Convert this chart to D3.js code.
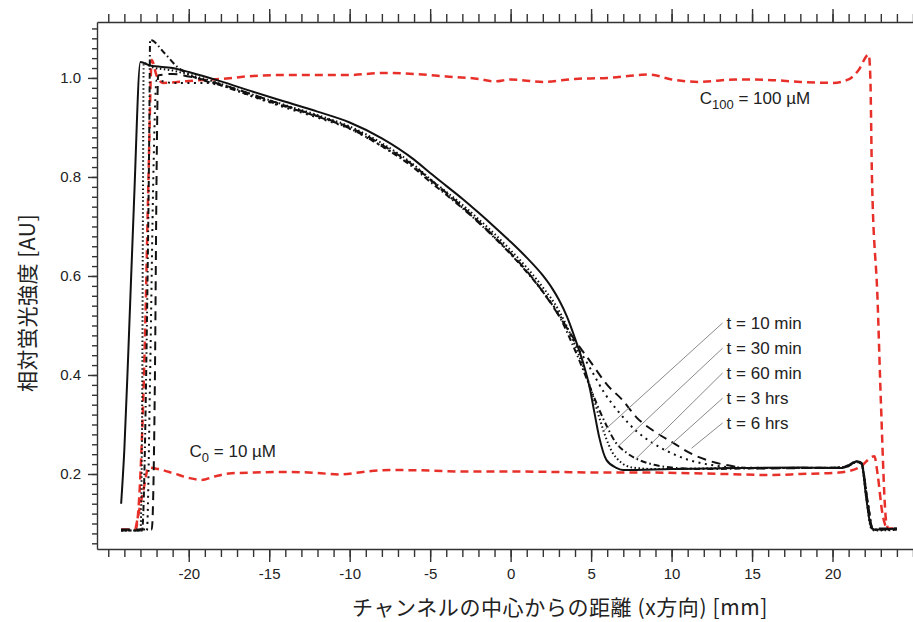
<!DOCTYPE html>
<html>
<head>
<meta charset="utf-8">
<script src="https://cdn.jsdelivr.net/npm/d3@7"></script>
<style>
  body { margin: 0; background: #fff; }
  text { font-family: "Liberation Sans", Arial, sans-serif; fill: #222; }
  .jp { font-family: "Noto Sans CJK JP", sans-serif; }
</style>
</head>
<body>
<svg width="913" height="622"></svg>
<script>
// the svg
var svg = d3.select("svg"),
  width = +svg.attr("width"),
  height = +svg.attr("height");

// data: [x (mm), relative intensity]
var t10min = [[-24.2,0.14],[-24.0,0.25],[-23.75,0.45],[-23.4,0.75],[-23.0,1.032],[-22.4,1.025],[-21,1.02],[-20,1.012],[-18,0.993],[-16,0.972],[-14,0.952],[-12,0.932],[-10,0.91],[-8,0.878],[-6,0.835],[-5,0.808],[-4,0.782],[-3,0.756],[-2,0.728],[-1,0.699],[0,0.669],[1,0.637],[2,0.601],[2.6,0.574],[3,0.552],[3.5,0.518],[4,0.474],[4.5,0.425],[4.9,0.376],[5.2,0.325],[5.5,0.275],[5.96,0.228],[6.6,0.212],[7,0.208],[10,0.21],[14,0.212],[18,0.213],[20.5,0.212],[21,0.216],[21.5,0.226],[21.8,0.222],[22.1,0.15],[22.4,0.093],[22.6,0.088],[24,0.09]];
var t30min = [[-24.2,0.086],[-23.0,0.086],[-22.9,0.3],[-22.85,0.7],[-22.8,1.03],[-22.3,1.022],[-21,1.015],[-20,1.007],[-18,0.988],[-16,0.966],[-14,0.945],[-12,0.925],[-10,0.902],[-8,0.868],[-6,0.824],[-5,0.796],[-4,0.77],[-3,0.744],[-2,0.715],[-1,0.685],[0,0.652],[1,0.617],[2,0.577],[3,0.53],[4,0.46],[5,0.37],[5.5,0.315],[5.9,0.275],[6.3,0.245],[6.8,0.225],[7.6,0.213],[9,0.21],[14,0.212],[18,0.212],[20.5,0.213],[21,0.217],[21.5,0.224],[21.8,0.22],[22.1,0.15],[22.4,0.09],[22.6,0.086],[24,0.087]];
var t60min = [[-24.2,0.086],[-22.9,0.086],[-22.6,0.5],[-22.45,0.9],[-22.4,1.077],[-21.5,1.05],[-20.7,1.022],[-20,1.007],[-18,0.985],[-16,0.963],[-14,0.942],[-12,0.922],[-10,0.898],[-8,0.862],[-6,0.818],[-5,0.79],[-4,0.764],[-3,0.737],[-2,0.708],[-1,0.677],[0,0.644],[1,0.608],[2,0.568],[3,0.52],[4,0.45],[5,0.37],[5.5,0.33],[6,0.295],[6.5,0.265],[7.2,0.243],[8,0.228],[9,0.218],[10,0.213],[12,0.21],[16,0.212],[20.5,0.213],[21,0.218],[21.5,0.225],[21.8,0.22],[22.2,0.14],[22.5,0.088],[24,0.088]];
var t3hrs = [[-24.2,0.086],[-22.6,0.086],[-22.4,0.4],[-22.2,0.8],[-22.0,0.995],[-21,0.99],[-19,0.99],[-18,0.985],[-16,0.962],[-14,0.94],[-12,0.92],[-10,0.897],[-8,0.862],[-6,0.82],[-5,0.793],[-4,0.766],[-3,0.738],[-2,0.709],[-1,0.678],[0,0.645],[1,0.609],[2,0.569],[3,0.523],[4,0.465],[4.9,0.416],[5.8,0.365],[6.8,0.322],[7.8,0.287],[8.8,0.263],[10,0.242],[11.1,0.228],[12.5,0.218],[14,0.213],[18,0.212],[20.5,0.212],[21,0.216],[21.5,0.224],[21.8,0.22],[22.2,0.14],[22.5,0.087],[24,0.088]];
var t6hrs = [[-24.2,0.088],[-22.3,0.088],[-22.1,0.4],[-22.0,0.8],[-21.9,1.005],[-21,1.008],[-20,1.003],[-18,0.987],[-16,0.966],[-14,0.944],[-12,0.923],[-10,0.9],[-8,0.865],[-6,0.822],[-5,0.795],[-4,0.768],[-3,0.74],[-2,0.71],[-1,0.679],[0,0.646],[1,0.61],[2,0.568],[3,0.52],[4.1,0.465],[5,0.425],[6,0.38],[6.96,0.349],[7.8,0.315],[9.07,0.283],[10.1,0.263],[11.1,0.243],[12.2,0.228],[13.4,0.218],[15.5,0.211],[18,0.212],[20.5,0.213],[21,0.218],[21.5,0.226],[21.8,0.222],[22.2,0.14],[22.5,0.09],[24,0.09]];
var c100 = [[-24.2,0.088],[-23.3,0.088],[-23.0,0.2],[-22.7,0.5],[-22.5,0.8],[-22.3,1.036],[-22.0,1.005],[-21.6,0.99],[-20,0.994],[-18,0.998],[-16,1.004],[-14,1.006],[-12,1.006],[-10,1.006],[-8,1.01],[-6,1.008],[-4,1.003],[-2,0.998],[-1,0.993],[0,0.997],[2,0.992],[4,0.998],[6,1.0],[8,1.006],[8.6,1.007],[10,0.997],[11.7,0.992],[14,0.997],[16,0.996],[18,0.992],[20,0.99],[21,0.997],[21.6,1.015],[22.25,1.047],[22.35,1.0],[22.45,0.8],[22.8,0.55],[23.0,0.35],[23.35,0.1],[23.5,0.09],[24,0.09]];
var c0 = [[-23.3,0.09],[-22.8,0.17],[-22.5,0.213],[-21.9,0.21],[-21,0.202],[-20,0.192],[-19.2,0.188],[-18.4,0.195],[-17.5,0.201],[-16,0.203],[-13.7,0.204],[-12,0.202],[-10.6,0.199],[-9,0.205],[-7.5,0.208],[-5,0.207],[-3,0.205],[0,0.205],[3,0.204],[5,0.203],[8,0.203],[12,0.201],[16.3,0.198],[18,0.2],[20.4,0.203],[21.7,0.214],[22.6,0.236],[22.8,0.2],[23.1,0.12],[23.35,0.09]];

var timeLabels = ["t = 10 min", "t = 30 min", "t = 60 min", "t = 3 hrs", "t = 6 hrs"];
// where each leader line touches its curve
var leaderEnds = [[5.71,0.285],[6.65,0.255],[7.76,0.23],[9.57,0.248],[11.24,0.252]];
var legendX = 13.42;
var legendY = [0.493, 0.442, 0.392, 0.341, 0.291];

var xMajor = d3.range(-20, 21, 5);
var xMinor = d3.range(-25, 26, 1);
var yMajor = [0.2, 0.4, 0.6, 0.8, 1.0];
var yMinor = d3.range(0.06, 1.101, 0.02);

// scales
var x = d3.scaleLinear().domain([-25.7, 25.0]).range([97, 913]);
var y = d3.scaleLinear().domain([0.0485, 1.113]).range([549, 22]);

var line = d3.line()
  .x(function(d) { return x(d[0]); })
  .y(function(d) { return y(d[1]); })
  .curve(d3.curveMonotoneX);

// axes
function styleAxis(g) {
  g.selectAll("path,line").attr("stroke", "#333").attr("stroke-width", 1.4);
  g.selectAll("text").attr("font-size", 15).attr("fill", "#222")
    .attr("font-family", "Liberation Sans, Arial, sans-serif");
}

svg.append("g").attr("transform", "translate(0,549)")
  .call(d3.axisBottom(x).tickValues(xMinor).tickSize(8).tickSizeOuter(0).tickFormat(""))
  .call(styleAxis);
svg.append("g").attr("transform", "translate(0,549)")
  .call(d3.axisBottom(x).tickValues(xMajor).tickSize(13).tickSizeOuter(0).tickPadding(6)
    .tickFormat(function(d) { return String(d); }))
  .call(styleAxis)
  .select(".domain").remove();

svg.append("g").attr("transform", "translate(0,22)")
  .call(d3.axisTop(x).tickValues(xMinor).tickSize(8).tickSizeOuter(0).tickFormat(""))
  .call(styleAxis);
svg.append("g").attr("transform", "translate(0,22)")
  .call(d3.axisTop(x).tickValues(xMajor).tickSize(13).tickSizeOuter(0).tickFormat(""))
  .call(styleAxis)
  .select(".domain").remove();

svg.append("g").attr("transform", "translate(97,0)")
  .call(d3.axisLeft(y).tickValues(yMinor).tickSize(5).tickSizeOuter(0).tickFormat(""))
  .call(styleAxis);
svg.append("g").attr("transform", "translate(97,0)")
  .call(d3.axisLeft(y).tickValues(yMajor).tickSize(9).tickSizeOuter(0).tickPadding(7)
    .tickFormat(d3.format(".1f")))
  .call(styleAxis)
  .select(".domain").remove();

// axis titles
svg.append("text").attr("class", "jp")
  .attr("transform", "translate(35,303) rotate(-90)")
  .attr("text-anchor", "middle")
  .attr("font-size", 21)
  .attr("letter-spacing", 0.5)
  .text("相対蛍光強度 [AU]");

svg.append("text").attr("class", "jp")
  .attr("x", 560).attr("y", 615)
  .attr("text-anchor", "middle")
  .attr("font-size", 21)
  .attr("letter-spacing", 0.6)
  .text("チャンネルの中心からの距離 (x方向) [mm]");

// red reference curves
[c100, c0].forEach(function(d) {
  svg.append("path").datum(d)
    .attr("fill", "none")
    .attr("stroke", "#e8302a")
    .attr("stroke-width", 2.5)
    .attr("stroke-dasharray", "8,5")
    .attr("d", line);
});

// black time curves
var blackSeries = [t10min, t30min, t60min, t3hrs, t6hrs];
var dashes = [null, "1.5,2.5", "6,3,1.5,3", "2,4.5", "9,6"];
blackSeries.forEach(function(d, i) {
  svg.append("path").datum(d)
    .attr("fill", "none")
    .attr("stroke", "#111")
    .attr("stroke-width", 2)
    .attr("stroke-dasharray", dashes[i])
    .attr("stroke-linejoin", "round")
    .attr("d", line);
});

// leader lines and labels
timeLabels.forEach(function(t, i) {
  svg.append("line")
    .attr("x1", x(legendX) - 4).attr("y1", y(legendY[i]) - 6)
    .attr("x2", x(leaderEnds[i][0])).attr("y2", y(leaderEnds[i][1]))
    .attr("stroke", "#8a8a8a").attr("stroke-width", 1);
  svg.append("text")
    .attr("x", x(legendX)).attr("y", y(legendY[i]))
    .attr("font-size", 17)
    .text(t);
});

// concentration labels
var lab100 = svg.append("text").attr("x", x(11.75)).attr("y", y(0.948)).attr("font-size", 17);
lab100.append("tspan").text("C");
lab100.append("tspan").attr("font-size", 13).attr("dy", 5).text("100");
lab100.append("tspan").attr("dy", -5).text(" = 100 µM");

var lab0 = svg.append("text").attr("x", x(-19.95)).attr("y", y(0.234)).attr("font-size", 17);
lab0.append("tspan").text("C");
lab0.append("tspan").attr("font-size", 13).attr("dy", 5).text("0");
lab0.append("tspan").attr("dy", -5).text(" = 10 µM");
</script>
</body>
</html>
